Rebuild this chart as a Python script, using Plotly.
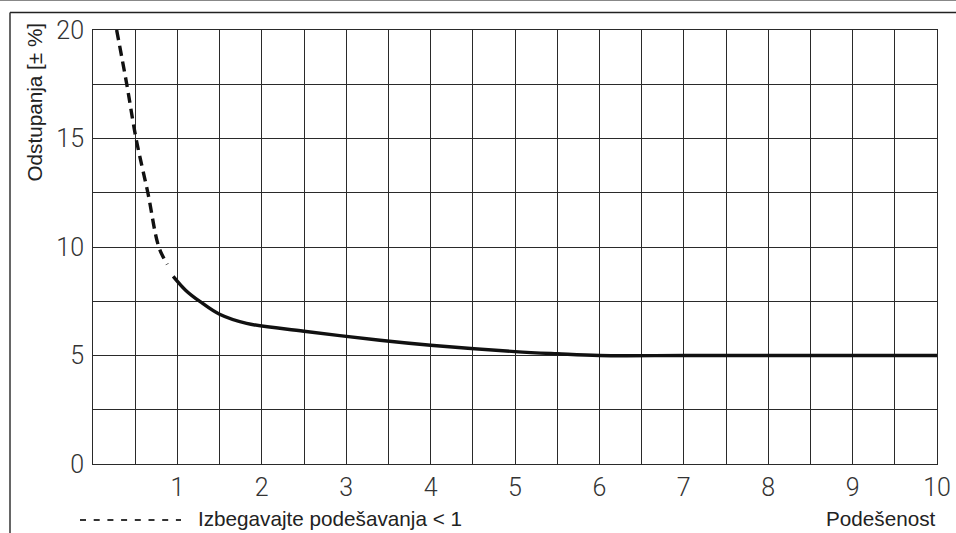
import plotly.graph_objects as go

# Deviation curve: dashed region (setting below 1) and solid operating region
dashed_x = [0.28, 0.40, 0.51, 0.65, 0.78, 0.88]
dashed_y = [20.0, 17.5, 15.0, 12.5, 10.0, 9.2]

solid_x = [0.95, 1.10, 1.27, 1.50, 1.82, 2.50, 3.40, 4.00, 5.00, 5.50, 6.00, 7.00, 8.00, 9.00, 10.00]
solid_y = [8.65, 8.00, 7.48, 6.90, 6.48, 6.12, 5.70, 5.47, 5.18, 5.08, 5.00, 5.00, 5.00, 5.00, 5.00]

# Grid positions and labels
x_grid = [i * 0.5 for i in range(21)]
x_labels = [str(int(v)) if v == int(v) and v > 0 else "" for v in x_grid]
y_grid = [i * 2.5 for i in range(9)]
y_labels = [str(int(v)) if v % 5 == 0 else "" for v in y_grid]

W, H = 956, 533
L, R, T, B = 93, 19, 30, 69
pw, ph = W - L - R, H - T - B


def px_x(p):
    return (p - L) / pw


def px_y(p):
    return (H - B - p) / ph


fig = go.Figure()
fig.add_trace(go.Scatter(
    x=dashed_x, y=dashed_y, mode="lines",
    line=dict(color="#111111", width=3.4, dash="10px,6px", shape="spline"),
    hoverinfo="skip", showlegend=False,
))
fig.add_trace(go.Scatter(
    x=solid_x, y=solid_y, mode="lines",
    line=dict(color="#111111", width=3.4, shape="spline"),
    hoverinfo="skip", showlegend=False,
))

tick_font = dict(family="Roboto", size=25, color="#333333", weight=300)
grid_color = "#2a2a2a"

fig.update_xaxes(
    range=[0, 10], tickvals=x_grid, ticktext=x_labels, tickfont=tick_font,
    showgrid=True, gridcolor=grid_color, gridwidth=1, zeroline=False,
    showline=True, linecolor=grid_color, linewidth=1, mirror=True,
    ticks="", ticklabelstandoff=1, automargin=False,
)
fig.update_yaxes(
    range=[0, 20], tickvals=y_grid, ticktext=y_labels, tickfont=tick_font,
    showgrid=True, gridcolor=grid_color, gridwidth=1, zeroline=False,
    showline=True, linecolor=grid_color, linewidth=1, mirror=True,
    ticks="", ticklabelstandoff=3, automargin=False,
)

text_font = dict(family="Liberation Sans", size=20.7, color="#222222")

fig.add_annotation(
    x=px_x(34), y=px_y(21), xref="paper", yref="paper",
    text="Odstupanja [± %]", textangle=-90, showarrow=False,
    xanchor="center", yanchor="top", font=text_font,
)
fig.add_annotation(
    x=px_x(196), y=px_y(518), xref="paper", yref="paper",
    text="Izbegavajte podešavanja < 1", showarrow=False,
    xanchor="left", yanchor="middle", font=text_font,
)
fig.add_annotation(
    x=px_x(938), y=px_y(518), xref="paper", yref="paper",
    text="Podešenost", showarrow=False,
    xanchor="right", yanchor="middle", font=text_font,
)

# Legend key: dashed stroke before the note
fig.add_shape(type="line", xref="paper", yref="paper",
              x0=px_x(80), x1=px_x(181), y0=px_y(520), y1=px_y(520),
              line=dict(color="#333333", width=1.8, dash="6px,7.7px"))

# Page frame lines
fig.add_shape(type="line", xref="paper", yref="paper",
              x0=px_x(0), x1=px_x(W), y0=px_y(0.5), y1=px_y(0.5),
              line=dict(color="#888888", width=1))
fig.add_shape(type="line", xref="paper", yref="paper",
              x0=px_x(10), x1=px_x(W), y0=px_y(12.5), y1=px_y(12.5),
              line=dict(color="#222222", width=1.5))
fig.add_shape(type="line", xref="paper", yref="paper",
              x0=px_x(10), x1=px_x(10), y0=px_y(12.5), y1=px_y(H),
              line=dict(color="#333333", width=1.5))

fig.update_layout(
    width=W, height=H, autosize=False,
    margin=dict(l=L, r=R, t=T, b=B),
    plot_bgcolor="white", paper_bgcolor="white",
    showlegend=False,
)

fig.write_html("out.html")
